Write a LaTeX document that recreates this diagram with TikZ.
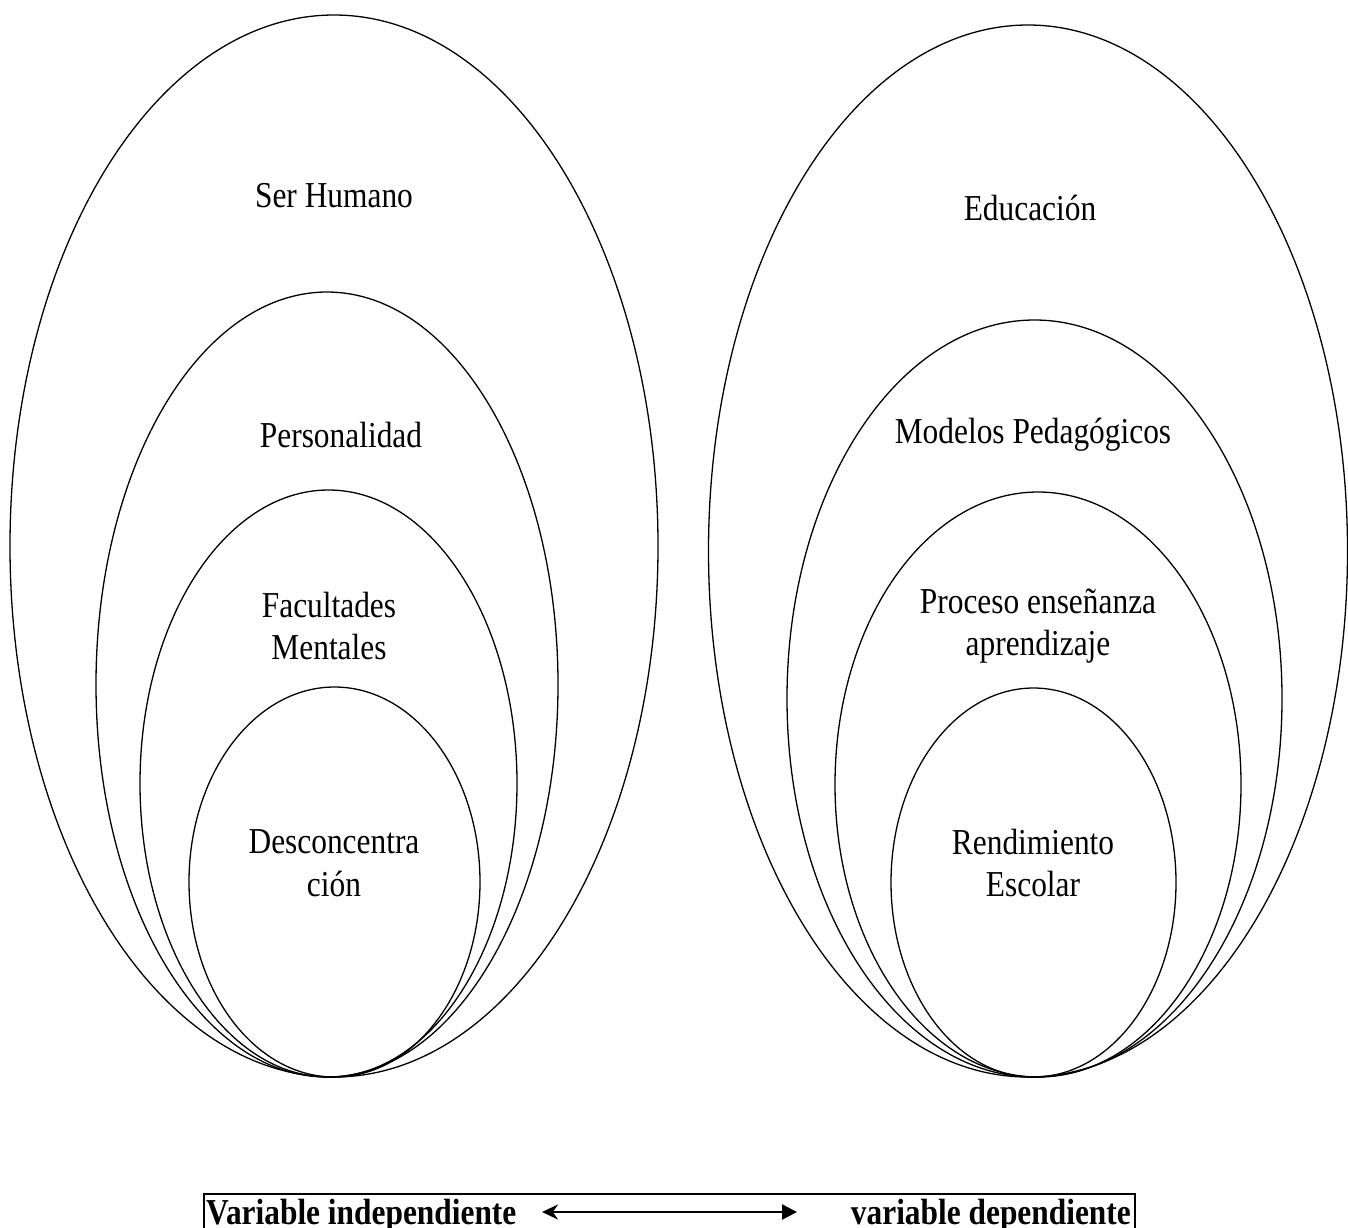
\documentclass[tikz,border=0pt]{standalone}
\usepackage{fontspec}
\setmainfont{Liberation Serif}[FakeStretch=0.86]
\usetikzlibrary{shapes.geometric,arrows.meta}
\tikzset{
  ell/.style={draw, ellipse, line width=1.3pt, inner sep=0pt, outer sep=0pt},
  lbl/.style={align=center, inner sep=0pt, font=\fontsize{36.5}{42.5}\selectfont},
  blbl/.style={inner sep=0pt, font=\fontsize{36.5}{42.5}\selectfont\bfseries},
}
\begin{document}
\begin{tikzpicture}[x=1pt,y=-1pt]
\clip (0,0) rectangle (1348,1227);
\fill[white] (0,0) rectangle (1348,1227);
% left group
\node[ell, minimum width=648pt, minimum height=1062pt] (e1) at (334,546) {};
\node[ell, minimum width=462pt, minimum height=785pt] (e2) at (327,684.5) {};
\node[ell, minimum width=377pt, minimum height=587pt] (e3) at (328.5,783.5) {};
\node[ell, minimum width=291pt, minimum height=390pt] (e4) at (334.5,882) {};
% right group
\node[ell, minimum width=639pt, minimum height=1052pt] (r1) at (1028,551) {};
\node[ell, minimum width=495pt, minimum height=757pt] (r2) at (1034.5,698.5) {};
\node[ell, minimum width=406pt, minimum height=585pt] (r3) at (1038,784.5) {};
\node[ell, minimum width=285pt, minimum height=389pt] (r4) at (1033.5,882.5) {};
% labels
\node[lbl] (t1) at (334,196) {Ser Humano};
\node[lbl] (t2) at (341,435) {Personalidad};
\node[lbl] (t3) at (329,626) {Facultades\\Mentales};
\node[lbl] (t4) at (334,863) {Desconcentra\\ción};
\node[lbl] (u1) at (1030,208) {Educación};
\node[lbl] (u2) at (1033,435) {Modelos Pedagógicos};
\node[lbl] (u3) at (1038,626) {Proceso enseñanza\\aprendizaje};
\node[lbl] (u4) at (1033,863) {Rendimiento\\Escolar};
% bottom box
\node[draw, line width=1.5pt, inner sep=0pt, minimum width=931pt, minimum height=60pt, anchor=north west] (box) at (203,1193) {};
\node[blbl, anchor=base west] (vi) at (206,1224) {Variable independiente};
\node[blbl, anchor=base east] (vd) at (1131,1224) {variable dependiente};
\coordinate (a1) at (542,1212);
\coordinate (a2) at (797,1212);
\draw[line width=2.5pt, {Stealth[length=16pt,width=15pt]}-{Triangle[length=15pt,width=15pt]}] (a1) -- (a2);
\end{tikzpicture}
\end{document}
